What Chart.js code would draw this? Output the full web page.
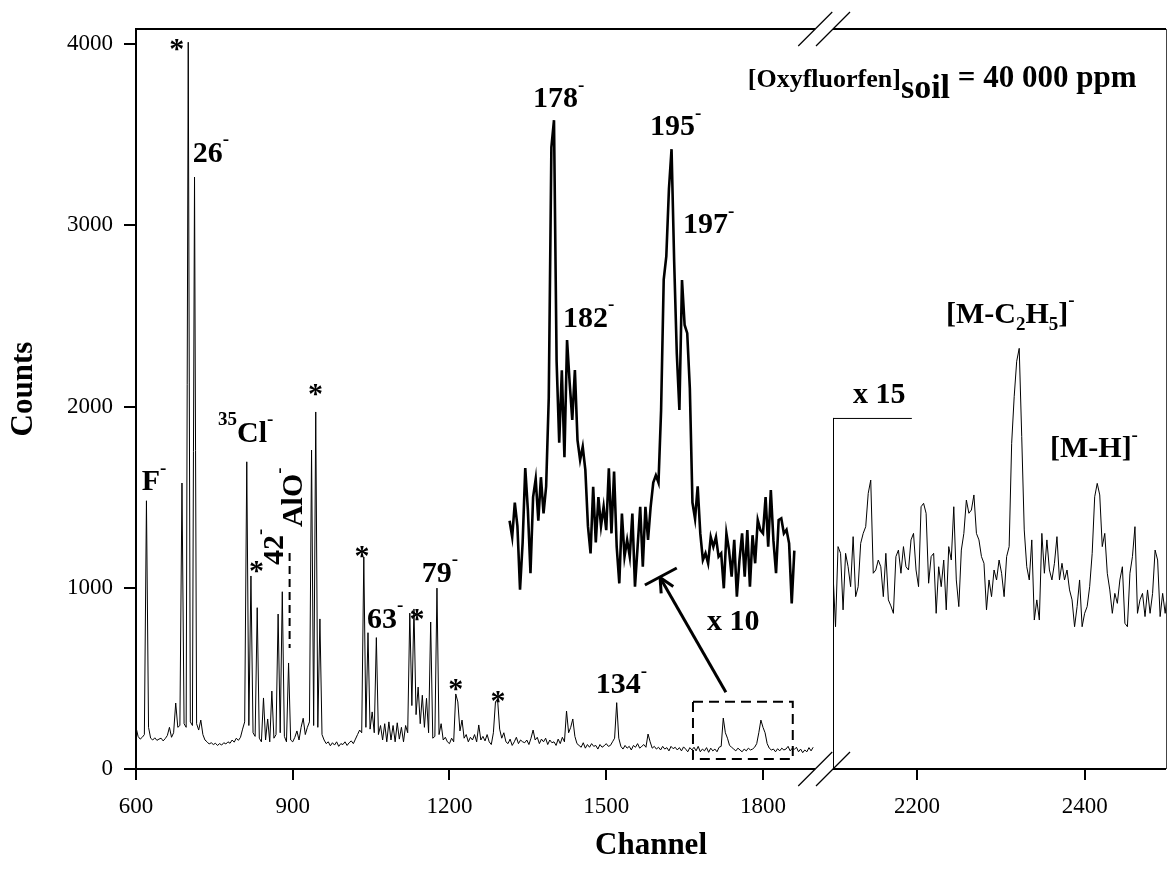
<!DOCTYPE html>
<html>
<head>
<meta charset="utf-8">
<script src="https://cdn.jsdelivr.net/npm/chart.js@4.4.0/dist/chart.umd.min.js"></script>
<style>
  html, body { margin: 0; padding: 0; background: #fff; }
  #wrap { width: 1168px; height: 880px; }
</style>
</head>
<body>
<div id="wrap"><canvas id="spec" width="1168" height="880"></canvas></div>
<script>
const FONT = '"Liberation Serif", "Times New Roman", Times, serif';

// main spectrum: one reading every 4 channels, from channel 600
const LEFT_START = 600, LEFT_STEP = 4;
const leftCounts = [
  230,180,165,175,190,1480,230,170,160,172,158,165,170,155,168,185,230,175,200,364,230,240,1578,250,230,
  4010,260,240,3266,250,215,270,190,160,150,138,145,135,142,130,140,132,145,138,150,142,160,148,170,158,
  175,220,260,1695,240,1065,200,180,890,170,150,392,160,276,150,430,170,190,855,200,978,180,150,585,160,
  150,175,210,160,230,280,190,230,260,1760,240,1970,230,828,190,160,140,150,128,145,132,150,125,140,135,
  150,130,145,155,140,165,190,215,200,1170,230,752,220,315,200,725,190,240,160,250,150,260,160,240,150,
  255,165,230,150,240,200,860,350,883,300,452,250,407,230,390,200,811,170,180,998,190,250,160,175,150,
  140,170,150,414,370,210,270,170,190,150,175,160,190,150,243,160,180,155,190,150,135,200,371,386,220,
  170,200,150,140,165,130,150,175,140,160,150,145,160,135,170,215,160,175,140,165,150,170,135,160,145,
  150,130,165,140,175,150,320,200,230,276,180,140,130,120,145,115,135,120,140,125,130,110,135,120,128,
  140,125,130,150,170,366,170,125,110,130,115,125,105,130,120,140,115,125,135,120,193,150,115,125,110,
  120,105,125,110,118,100,125,112,120,105,118,100,122,110,95,118,105,120,100,125,95,110,100,118,92,
  115,100,110,95,120,125,281,200,170,130,120,110,100,115,105,95,110,100,115,105,110,120,140,200,270,
  230,200,140,115,105,110,95,112,100,115,105,110,125,100,115,108,120,95,110,90,105,95,118,100,120
];

// x10 inset, drawn on the channel axis between 1315 and 1860
const INSET_START = 1315, INSET_STEP = 5;
const insetCounts = [
  1370,1280,1470,1340,990,1250,1660,1430,1080,1500,
  1600,1370,1610,1410,1560,2050,3430,3580,2250,1800,
  2200,1720,2367,2130,1926,2201,1815,1705,1778,1650,
  1340,1190,1557,1250,1500,1340,1447,1318,1659,1300,
  1641,1226,1024,1409,1172,1264,1172,1409,1006,1226,
  1447,1116,1447,1264,1447,1580,1620,1580,1980,2700,
  2830,3200,3420,2800,2295,1981,2698,2450,2405,2100,
  1470,1380,1560,1300,1153,1190,1135,1280,1226,1280,
  1172,1190,997,1300,1208,1061,1264,951,1153,1300,
  1061,1318,1006,1290,1135,1374,1318,1300,1500,1226,
  1539,1260,1080,1374,1383,1300,1320,1245,914,1205
];

// x15 part after the axis break
const RIGHT_START = 2100, RIGHT_STEP = 3;
const rightCounts = [
  1080,785,1227,1190,878,1190,1116,1006,1282,951,
  1006,1245,1300,1337,1521,1594,1080,1098,1153,1116,
  951,1190,933,900,859,1172,1208,1080,1227,1116,
  1098,1264,1300,1098,1006,1447,1466,1411,1025,1172,
  1190,859,1116,1006,1153,878,1227,1153,1447,1043,
  896,1208,1300,1484,1411,1429,1512,1300,1264,1172,
  1135,878,1043,951,1098,1043,1153,1080,951,1172,
  1227,1797,2054,2250,2321,1834,1319,1116,1043,1264,
  822,933,822,1300,1080,1264,1098,1043,1135,1282,
  1043,1135,1043,1098,988,933,785,896,1043,785,
  859,896,1006,1190,1502,1576,1512,1227,1300,1080,
  988,859,969,914,1043,1116,804,785,1080,1172,
  1337,859,933,969,841,988,859,969,1208,1153,
  841,969,859,988
];

const yTickValues = [0, 1000, 2000, 3000, 4000];
const xTicksLeft = [600, 900, 1200, 1500, 1800];
const xTicksRight = [2200, 2400];

// labels, placed in data units (channel, counts) = left end of baseline
const peakLabels = [
  { axis: 'xL', x: 611,    y: 1539, parts: [['F'], ['-', 'sup']] },
  { axis: 'xL', x: 708.5,  y: 3351, parts: [['26'], ['-', 'sup']] },
  { axis: 'xL', x: 757,    y: 1806, parts: [['35', 'sup'], ['Cl'], ['-', 'sup']] },
  { axis: 'xL', x: 881.3,  y: 1126, parts: [['42'], ['-', 'sup']], rotate: true },
  { axis: 'xL', x: 917.7,  y: 1335, parts: [['AlO'], ['-', 'sup']], rotate: true },
  { axis: 'xL', x: 1042,   y: 778,  parts: [['63'], ['-', 'sup']] },
  { axis: 'xL', x: 1146.8, y: 1032, parts: [['79'], ['-', 'sup']] },
  { axis: 'xL', x: 1480,   y: 419,  parts: [['134'], ['-', 'sup']] },
  { axis: 'xL', x: 1359.8, y: 3652, parts: [['178'], ['-', 'sup']] },
  { axis: 'xL', x: 1417.2, y: 2439, parts: [['182'], ['-', 'sup']] },
  { axis: 'xL', x: 1583.7, y: 3498, parts: [['195'], ['-', 'sup']] },
  { axis: 'xL', x: 1646.9, y: 2957, parts: [['197'], ['-', 'sup']] },
  { axis: 'xL', x: 1692.8, y: 767,  parts: [['x 10']] },
  { axis: 'xR', x: 2123.8, y: 2019, parts: [['x 15']] },
  { axis: 'xR', x: 2234.7, y: 2461, parts: [['[M-C'], ['2', 'sub'], ['H'], ['5', 'sub'], [']'], ['-', 'sup']] },
  { axis: 'xR', x: 2358.7, y: 1721, parts: [['[M-H]'], ['-', 'sup']] }
];
// asterisks (centre of glyph)
const stars = [[678, 4006], [830.6, 1126], [943.5, 2102], [1032.5, 1208], [1137.8, 861], [1211.9, 474], [1292.8, 408]];

const titleAt = { x: 1771, y: 3763 };
const arrow = { from: [1729, 424], to: [1603, 1057] };
const arrowBar = [[1574, 1015], [1635, 1109]];
const zoomBox = { x0: 1666, x1: 1857, y0: 55, y1: 371 };
const alOMarker = { x: 894, y0: 668, y1: 1192 };
const bracket15 = { x0: 2100, x1: 2194, y: 1937 };
const LEFT_AXIS_END = 1900;

function toPoints(start, step, counts) {
  return counts.map((c, i) => ({ x: start + i * step, y: c }));
}

function drawParts(ctx, x, y, parts, size) {
  let cx = x;
  for (const [t, kind] of parts) {
    let fs = size, dy = 0;
    if (kind === 'sup') { fs = Math.round(size * 0.62); dy = -size * 0.55; }
    else if (kind === 'sub') { fs = Math.round(size * 0.62); dy = size * 0.22; }
    ctx.font = 'bold ' + fs + 'px ' + FONT;
    ctx.fillText(t, cx, y + dy);
    cx += ctx.measureText(t).width;
  }
  return cx;
}

function line(ctx, x1, y1, x2, y2) {
  ctx.beginPath();
  ctx.moveTo(x1, y1);
  ctx.lineTo(x2, y2);
  ctx.stroke();
}

const decor = {
  id: 'decor',
  afterDraw(chart) {
    const { ctx, chartArea: a, scales } = chart;
    const xL = scales.xL, xR = scales.xR, y = scales.y;
    ctx.save();
    ctx.strokeStyle = '#000';
    ctx.fillStyle = '#000';

    // frame: bottom axis + top edge, both broken
    ctx.lineWidth = 2;
    const lEnd = xL.getPixelForValue(LEFT_AXIS_END);
    const rStart = xR.getPixelForValue(RIGHT_START);
    for (const yy of [a.top, a.bottom]) {
      line(ctx, a.left, yy, lEnd, yy);
      line(ctx, rStart, yy, a.right, yy);
    }
    ctx.lineWidth = 1;
    ctx.strokeStyle = '#444';
    line(ctx, a.right + 0.5, a.top, a.right + 0.5, a.bottom);
    ctx.strokeStyle = '#000';

    // break marks
    ctx.lineWidth = 1.2;
    for (const yy of [a.top, a.bottom]) {
      for (const xx of [lEnd, rStart]) line(ctx, xx - 17, yy + 17, xx + 17, yy - 17);
    }

    // x15 bracket
    ctx.lineWidth = 1;
    const by = y.getPixelForValue(bracket15.y);
    const bx0 = xR.getPixelForValue(bracket15.x0), bx1 = xR.getPixelForValue(bracket15.x1);
    line(ctx, bx0 + 0.5, a.bottom, bx0 + 0.5, by);
    line(ctx, bx0, by + 0.5, bx1, by + 0.5);

    // dashed box around the zoomed region + AlO marker
    ctx.lineWidth = 2;
    ctx.setLineDash([10, 6]);
    const zx0 = xL.getPixelForValue(zoomBox.x0), zx1 = xL.getPixelForValue(zoomBox.x1);
    const zy0 = y.getPixelForValue(zoomBox.y1), zy1 = y.getPixelForValue(zoomBox.y0);
    ctx.strokeRect(zx0, zy0, zx1 - zx0, zy1 - zy0);
    ctx.setLineDash([8, 5]);
    const mx = xL.getPixelForValue(alOMarker.x);
    line(ctx, mx, y.getPixelForValue(alOMarker.y1), mx, y.getPixelForValue(alOMarker.y0));
    ctx.setLineDash([]);

    // arrow to the inset
    ctx.lineWidth = 3;
    const ax0 = xL.getPixelForValue(arrow.from[0]), ay0 = y.getPixelForValue(arrow.from[1]);
    const ax1 = xL.getPixelForValue(arrow.to[0]), ay1 = y.getPixelForValue(arrow.to[1]);
    line(ctx, ax0, ay0, ax1, ay1);
    const ang = Math.atan2(ay0 - ay1, ax0 - ax1);
    for (const d of [-0.45, 0.45]) {
      line(ctx, ax1, ay1, ax1 + 16 * Math.cos(ang + d), ay1 + 16 * Math.sin(ang + d));
    }
    line(ctx, xL.getPixelForValue(arrowBar[0][0]), y.getPixelForValue(arrowBar[0][1]),
              xL.getPixelForValue(arrowBar[1][0]), y.getPixelForValue(arrowBar[1][1]));

    // peak labels
    ctx.textAlign = 'left';
    ctx.textBaseline = 'alphabetic';
    for (const lb of peakLabels) {
      const px = scales[lb.axis].getPixelForValue(lb.x);
      const py = y.getPixelForValue(lb.y);
      if (lb.rotate) {
        ctx.save();
        ctx.translate(px, py);
        ctx.rotate(-Math.PI / 2);
        drawParts(ctx, 0, 0, lb.parts, 30);
        ctx.restore();
      } else {
        drawParts(ctx, px, py, lb.parts, 30);
      }
    }
    ctx.textAlign = 'center';
    ctx.font = 'bold 30px ' + FONT;
    for (const [sx, sy] of stars) {
      ctx.fillText('*', xL.getPixelForValue(sx), y.getPixelForValue(sy) + 15);
    }

    // concentration note
    ctx.textAlign = 'left';
    let tx = xL.getPixelForValue(titleAt.x);
    const ty = y.getPixelForValue(titleAt.y);
    ctx.font = 'bold 26px ' + FONT;
    ctx.fillText('[Oxyfluorfen]', tx, ty);
    tx += ctx.measureText('[Oxyfluorfen]').width;
    ctx.font = 'bold 34px ' + FONT;
    ctx.fillText('soil', tx, ty + 11);
    tx += ctx.measureText('soil').width;
    ctx.font = 'bold 31px ' + FONT;
    ctx.fillText(' = 40 000 ppm', tx, ty);

    // axis titles
    ctx.textAlign = 'center';
    ctx.textBaseline = 'middle';
    ctx.font = 'bold 31px ' + FONT;
    ctx.fillText('Channel', (a.left + a.right) / 2, 846);
    ctx.save();
    ctx.translate(24, 389);
    ctx.rotate(-Math.PI / 2);
    ctx.fillText('Counts', 0, 0);
    ctx.restore();
    ctx.restore();
  }
};

const tickFont = { family: FONT, size: 23 };
const xGrid = { display: true, drawOnChartArea: false, drawTicks: true, tickLength: 11, color: '#000', lineWidth: 2 };

new Chart(document.getElementById('spec'), {
  type: 'line',
  data: {
    datasets: [
      { data: toPoints(LEFT_START, LEFT_STEP, leftCounts), xAxisID: 'xL', borderColor: '#000', borderWidth: 1 },
      { data: toPoints(INSET_START, INSET_STEP, insetCounts), xAxisID: 'xL', borderColor: '#000', borderWidth: 2.6 },
      { data: toPoints(RIGHT_START, RIGHT_STEP, rightCounts), xAxisID: 'xR', borderColor: '#000', borderWidth: 1 }
    ]
  },
  options: {
    responsive: false,
    animation: false,
    layout: { padding: { left: 0, top: 29, right: 2, bottom: 0 } },
    elements: { point: { radius: 0 }, line: { tension: 0, borderJoinStyle: 'miter' } },
    plugins: { legend: { display: false }, tooltip: { enabled: false } },
    scales: {
      xL: {
        type: 'linear', position: 'bottom', stack: 'channel', stackWeight: 697,
        min: 600, max: 1934,
        afterFit: s => { s.height = 111; },
        afterBuildTicks: s => { s.ticks = xTicksLeft.map(v => ({ value: v })); },
        grid: xGrid,
        border: { display: false },
        ticks: { color: '#000', font: tickFont, padding: 13, maxRotation: 0, autoSkip: false, callback: v => String(v) }
      },
      xR: {
        type: 'linear', position: 'bottom', stack: 'channel', stackWeight: 333,
        min: 2100, max: 2497,
        afterFit: s => { s.height = 111; },
        afterBuildTicks: s => { s.ticks = xTicksRight.map(v => ({ value: v })); },
        grid: xGrid,
        border: { display: false },
        ticks: { color: '#000', font: tickFont, padding: 13, maxRotation: 0, autoSkip: false, callback: v => String(v) }
      },
      y: {
        type: 'linear', position: 'left', min: 0, max: 4083,
        afterFit: s => { s.width = 136; },
        afterBuildTicks: s => { s.ticks = yTickValues.map(v => ({ value: v })); },
        grid: { display: true, drawOnChartArea: false, drawTicks: true, tickLength: 12, color: '#000', lineWidth: 2 },
        border: { display: true, color: '#000', width: 2 },
        ticks: { color: '#000', font: tickFont, padding: 11, callback: v => String(v) }
      }
    }
  },
  plugins: [decor]
});
</script>
</body>
</html>
